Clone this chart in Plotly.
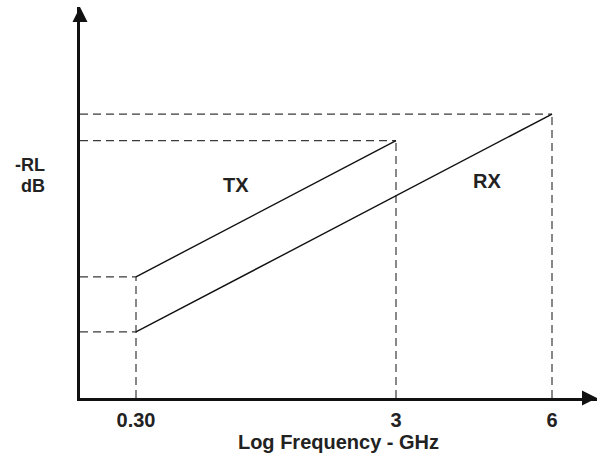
import plotly.graph_objects as go

# ---- data ----
freq_labels = ["0.30", "3", "6"]
freq_pos = [1, 6, 9]          # position of each frequency along the (schematic) log axis
tx_x = [1, 6]
tx_y = [2.33, 4.95]
rx_x = [1, 9]
rx_y = [1.27, 5.46]
series_names = ["TX", "RX"]

# ---- layout constants ----
L, R, T, B = 80, 0, 7, 63
W, H = 597, 461
PX = 52.0  # pixels per unit
pw, ph = W - L - R, H - T - B
x0 = freq_pos[0] - (136 - L) / PX
x1 = x0 + pw / PX
y0 = 0.0
y1 = ph / PX

FONT = "Liberation Sans, Arial, sans-serif"
FS = 20
DASH = "8px,5px"
DCOL = "#3a3a3a"

fig = go.Figure()

# dashed guide lines from each end point to the axes
for xs, ys in ((tx_x, tx_y), (rx_x, rx_y)):
    for xv, yv in zip(xs, ys):
        fig.add_trace(go.Scatter(x=[x0, xv], y=[yv, yv], mode="lines",
                                 line=dict(color=DCOL, width=1.2, dash=DASH),
                                 hoverinfo="skip", showlegend=False))
# vertical guides: from the highest end at each frequency down to the axis
for fx in freq_pos:
    top = max([yv for xs, ys in ((tx_x, tx_y), (rx_x, rx_y)) for xv, yv in zip(xs, ys) if xv == fx])
    fig.add_trace(go.Scatter(x=[fx, fx], y=[y0, top], mode="lines",
                             line=dict(color=DCOL, width=1.2, dash=DASH),
                             hoverinfo="skip", showlegend=False))

# solid series lines
for name, xs, ys in zip(series_names, (tx_x, rx_x), (tx_y, rx_y)):
    fig.add_trace(go.Scatter(x=xs, y=ys, mode="lines", name=name,
                             line=dict(color="#111111", width=1.4),
                             showlegend=False))

# arrow heads at the axis ends (tips on the range edges)
fig.add_trace(go.Scatter(x=[x0], y=[y1], mode="markers",
                         marker=dict(symbol="arrow-up", size=15, color="#111111",
                                     line=dict(width=0)),
                         cliponaxis=False, hoverinfo="skip", showlegend=False))
fig.add_trace(go.Scatter(x=[x1], y=[y0], mode="markers",
                         marker=dict(symbol="arrow-right", size=15, color="#111111",
                                     line=dict(width=0)),
                         cliponaxis=False, hoverinfo="skip", showlegend=False))

# series labels
fig.add_annotation(x=x0 + (236 - L) / PX, y=(398 - 185) / PX, text="<b>TX</b>",
                   showarrow=False, font=dict(family=FONT, size=FS, color="#222"))
fig.add_annotation(x=x0 + (486.5 - L) / PX, y=(398 - 181) / PX, text="<b>RX</b>",
                   showarrow=False, font=dict(family=FONT, size=FS, color="#222"))

# y axis label
fig.add_annotation(xref="paper", yref="paper", x=(47 - L) / pw, y=(398 - 164.5) / ph,
                   xanchor="right", yanchor="middle", text="<b>-RL</b>",
                   showarrow=False, font=dict(family=FONT, size=18, color="#222"))
fig.add_annotation(xref="paper", yref="paper", x=(47 - L) / pw, y=(398 - 186.5) / ph,
                   xanchor="right", yanchor="middle", text="<b>dB</b>",
                   showarrow=False, font=dict(family=FONT, size=18, color="#222"))

fig.update_layout(
    width=W, height=H,
    margin=dict(l=L, r=R, t=T, b=B),
    paper_bgcolor="white", plot_bgcolor="white",
    xaxis=dict(range=[x0, x1], showgrid=False, zeroline=False,
               showline=True, linewidth=3, linecolor="#111111",
               tickmode="array", tickvals=freq_pos,
               ticktext=["<b>%s</b>" % t for t in freq_labels],
               ticks="", ticklabelstandoff=2,
               tickfont=dict(family=FONT, size=FS, color="#222"),
               title=dict(text="<b>Log Frequency - GHz</b>", standoff=2,
                          font=dict(family=FONT, size=FS, color="#222"))),
    yaxis=dict(range=[y0, y1], showgrid=False, zeroline=False,
               showline=True, linewidth=3, linecolor="#111111",
               showticklabels=False, ticks=""),
)

fig.write_html("out.html", config={"displayModeBar": False},
               post_script="document.body.style.margin='0';document.body.style.overflow='hidden';")
